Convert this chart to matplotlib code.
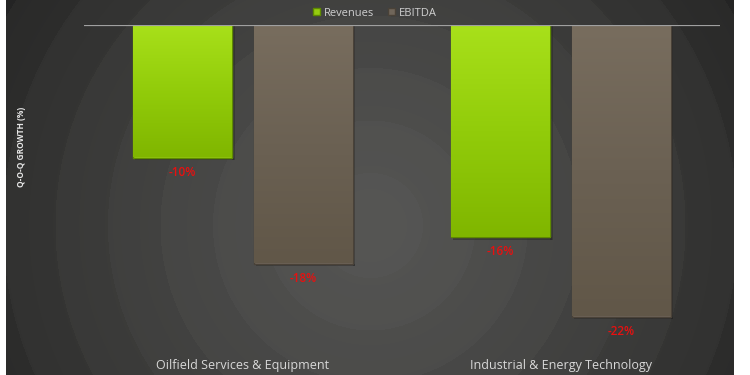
import numpy as np
import matplotlib
matplotlib.use("Agg")
import matplotlib.pyplot as plt
from matplotlib.colors import LinearSegmentedColormap

categories = ["Oilfield Services & Equipment", "Industrial & Energy Technology"]
series_names = ["Revenues", "EBITDA"]
revenues = [-10, -16]
ebitda = [-18, -22]
value_labels_rev = ["-10%", "-16%"]
value_labels_ebitda = ["-18%", "-22%"]

W, H = 750, 375
fig = plt.figure(figsize=(7.5, 3.75), dpi=100, facecolor="white")

# background panel with radial gradient
bg = fig.add_axes([6 / W, 0, (734 - 6) / W, 1])
bg.set_axis_off()
nx, ny = 728, 375
xx, yy = np.meshgrid(np.arange(nx), np.arange(ny))
cx, cy = 364, 225
r = np.sqrt((xx - cx) ** 2 + (yy - cy) ** 2) / 420.0
r = np.clip(r, 0, 1)
band = np.floor(r * 8) / 8
levels = band + 0.3 * (r - band)
val = 0.335 - 0.19 * levels ** 1.3
img = np.dstack([val, val, val * 0.98])
bg.imshow(img, extent=[0, nx, ny, 0], aspect="auto", interpolation="bilinear")
bg.set_xlim(0, nx)
bg.set_ylim(ny, 0)

ax = fig.add_axes([84 / W, 1 - 345 / H, (720 - 84) / W, 320 / H])
ax.set_facecolor("none")
x = np.arange(len(categories))
bw = 0.311
off = 0.19
b1 = ax.bar(x - off, revenues, bw, color="#96cc10", edgecolor="#5f8a00", linewidth=1.0, label=series_names[0], zorder=3)
b2 = ax.bar(x + off, ebitda, bw, color="#70665a", edgecolor="#4a4238", linewidth=1.0, label=series_names[1], zorder=3)

green_cmap = LinearSegmentedColormap.from_list("g", ["#a8e01a", "#92cc0a", "#80b600"])
brown_cmap = LinearSegmentedColormap.from_list("b", ["#786d5e", "#6b6153", "#615748"])
for bars, cmap in ((b1, green_cmap), (b2, brown_cmap)):
    for p in bars:
        x0, y0 = p.get_x(), p.get_y()
        w, h = p.get_width(), p.get_height()
        grad = np.linspace(0, 1, 100).reshape(-1, 1)
        im = ax.imshow(grad, cmap=cmap, aspect="auto",
                       extent=[x0, x0 + w, y0 + h, y0], zorder=3.5)
        im.set_clip_path(p)
        ax.add_patch(plt.Rectangle((x0 + 0.006, y0 + h - 0.22), w, 0.22,
                                   color="#1a1a1a", alpha=0.35, zorder=2.5, linewidth=0))
        ax.add_patch(plt.Rectangle((x0 + w, y0 + h - 0.22), 0.008, -h + 0.22,
                                   color="#1a1a1a", alpha=0.3, zorder=2.5, linewidth=0))

for bars, labs in ((b1, value_labels_rev), (b2, value_labels_ebitda)):
    for p, lab in zip(bars, labs):
        ax.annotate(lab, (p.get_x() + p.get_width() / 2, p.get_height()),
                    xytext=(0, -10.5), textcoords="offset points", ha="center", va="center",
                    color="#e81010", fontsize=8.5, fontweight="semibold",
                    family="Open Sans", zorder=6, annotation_clip=False)

ax.set_xlim(-0.5, 1.5)
ax.set_ylim(-320 / 13.25, 0)
ax.axhline(0, color="#a0a0a0", linewidth=1.6, zorder=4)
for s in ax.spines.values():
    s.set_visible(False)
ax.set_yticks([])
ax.set_xticks(x)
ax.set_xticklabels(categories, fontsize=9, family="Open Sans", color="#d8d8d8")
ax.tick_params(axis="x", length=0, pad=10)

leg = fig.legend(handles=[b1, b2], labels=series_names, loc="center",
                 bbox_to_anchor=(375 / W, 1 - 13 / H), ncol=2, frameon=False,
                 prop={"family": "Open Sans", "size": 8}, labelcolor="#d0d0d0",
                 handlelength=0.6, handleheight=0.6, handletextpad=0.4, columnspacing=1.2)

fig.text(22 / W, 1 - 147 / H, "Q-O-Q GROWTH (%)", rotation=90, ha="center", va="center",
         color="#e8e8e8", fontsize=6, fontweight="bold", family="Open Sans")

fig.savefig("out.png", dpi=100, facecolor="white")
